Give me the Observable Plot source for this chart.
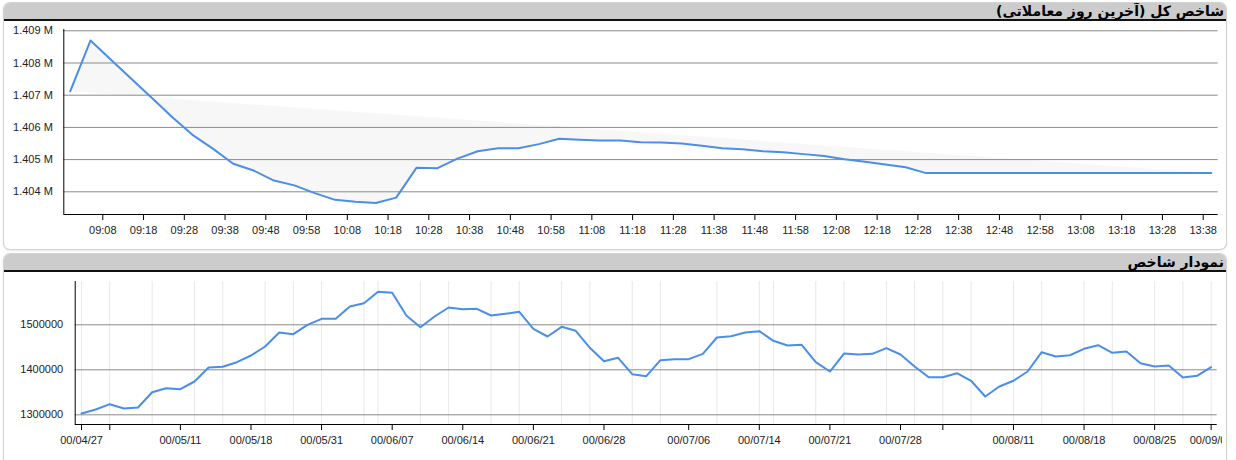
<!DOCTYPE html>
<html>
<head>
<meta charset="utf-8">
<script src="https://cdn.jsdelivr.net/npm/d3@7"></script>
<script src="https://cdn.jsdelivr.net/npm/@observablehq/plot@0.6"></script>
<style>
  html, body { margin: 0; padding: 0; }
  body { width: 1236px; height: 460px; overflow: hidden; position: relative; background: #fff; font-family: "Liberation Sans", Arial, sans-serif; }
  .panel { position: absolute; left: 4px; width: 1222px; background: #fff; border-radius: 6px;
           box-shadow: 0 0 0 1px #d2d2d2, 0 1px 3px rgba(0,0,0,0.18); overflow: hidden; }
  .head { position: absolute; left: 0; right: 0; top: 0; height: 16px; background: #cccccc; border-bottom: 2px solid #111; }
  .title { position: absolute; right: 2px; top: 0px; height: 16px; line-height: 16px; direction: rtl;
           font: bold 14px "DejaVu Sans", sans-serif; color: #000; white-space: nowrap; }
  .chart { position: absolute; left: 0; }
  .chart svg { overflow: hidden; }
</style>
</head>
<body>
<div class="panel" style="top:3px;height:246px;"><div class="head"><div class="title">شاخص کل (آخرین روز معاملاتی)</div></div></div>
<div class="panel" style="top:254px;height:230px;"><div class="head"><div class="title">نمودار شاخص</div></div></div>
<div class="chart" id="c1" style="top:21px;"></div>
<div class="chart" id="c2" style="top:272px;"></div>
<script>
// ---------- Intraday index (last trading day) ----------
const intradayTimes = ["09:00","09:05","09:10","09:15","09:20","09:25","09:30","09:35","09:40","09:45",
  "09:50","09:55","10:00","10:05","10:10","10:15","10:20","10:25","10:30","10:35",
  "10:40","10:45","10:50","10:55","11:00","11:05","11:10","11:15","11:20","11:25",
  "11:30","11:35","11:40","11:45","11:50","11:55","12:00","12:05","12:10","12:15",
  "12:20","12:25","12:30","12:35","12:40","12:45","12:50","12:55","13:00","13:05",
  "13:10","13:15","13:20","13:25","13:30","13:35","13:40"];
const intradayValues = [1407120,1408700,1408100,1407510,1406920,1406320,1405770,1405340,1404870,1404660,
  1404350,1404200,1403960,1403750,1403690,1403650,1403820,1404750,1404730,1405030,
  1405260,1405350,1405350,1405480,1405650,1405620,1405590,1405590,1405540,1405530,
  1405500,1405430,1405350,1405320,1405260,1405230,1405170,1405110,1405010,1404930,
  1404850,1404760,1404580,1404580,1404580,1404580,1404580,1404580,1404580,1404580,
  1404580,1404580,1404580,1404580,1404580,1404580,1404580];
const intradayTickLabels = ["09:08","09:18","09:28","09:38","09:48","09:58","10:08","10:18","10:28","10:38",
  "10:48","10:58","11:08","11:18","11:28","11:38","11:48","11:58","12:08","12:18",
  "12:28","12:38","12:48","12:58","13:08","13:18","13:28","13:38"];
const intradayYTicks = [1404000,1405000,1406000,1407000,1408000,1409000];
const intradayXDomain = ["08:58:26","13:41:41"];
const intradayYDomain = [1403295,1409040];

// ---------- Daily index history ----------
const dailyValues = [1302900,1311800,1323600,1314000,1316200,1350200,1359100,1356900,1374000,1405100,
  1406700,1416900,1431800,1451800,1482900,1479100,1500000,1513300,1513300,1540700,
  1548000,1573300,1571100,1520700,1494700,1518400,1538400,1534800,1535500,1520700,
  1524400,1528800,1491000,1474000,1495500,1486600,1448900,1419100,1426700,1390200,
  1385900,1421400,1423600,1423600,1435500,1471800,1474700,1482900,1485900,1464400,
  1454000,1455600,1416900,1396200,1436200,1434000,1435500,1448100,1434000,1407300,
  1383600,1383600,1392500,1375600,1340700,1362900,1375600,1396200,1439100,1429600,
  1432400,1446700,1454700,1437800,1440700,1414700,1407300,1409600,1382900,1386700,1405800];
const dailyTickIndex  = [0,2,7,12,17,22,27,32,37,43,48,53,58,61,66,71,76,80];
const dailyTickLabels = ["00/04/27","","00/05/11","00/05/18","00/05/31","00/06/07","00/06/14","00/06/21",
  "00/06/28","00/07/06","00/07/14","00/07/21","00/07/28","","00/08/11","00/08/18","00/08/25","00/09/03"];
const dailyGridIndex = [0,2,5,8,10,13,15,17,20,21,24,26,29,31,34,36,39,41,45,48,49,52,54,57,59,61,63,66,68,71,73,76,78,80];
const dailyYTicks = [1300000,1400000,1500000];
const dailyXDomain = [-0.45, 80.43];
const dailyYDomain = [1278444,1596222];

const LINE = "#4a8ee8", GRID = "#8a8a8a", VGRID = "#e8e8e8", FILL = "#f7f7f7";
const baseStyle = {background:"transparent", fontFamily:"'Liberation Sans', Arial, sans-serif", fontSize:"11px", color:"#222", overflow:"hidden"};

const toMin = s => { const p = s.split(":").map(Number); return p[0]*60 + p[1] + (p[2]||0)/60; };
const intraday = intradayTimes.map((t,i) => ({m: toMin(t), v: intradayValues[i]}));
const topTicks = intradayTickLabels.map(toMin);
const topLabel = new Map(topTicks.map((m,i) => [m, intradayTickLabels[i]]));
const topXDom = intradayXDomain.map(toMin);

const chart1 = Plot.plot({
  width: 1218, height: 228,
  marginLeft: 63.3, marginRight: 0.3, marginTop: 8, marginBottom: 35,
  style: baseStyle,
  x: {domain: topXDom, label: null},
  y: {domain: intradayYDomain, label: null},
  marks: [
    Plot.line(intraday, {x: "m", y: "v", fill: FILL, stroke: "none"}),
    Plot.ruleY(intradayYTicks, {stroke: GRID, strokeWidth: 1}),
    Plot.line(intraday, {x: "m", y: "v", stroke: LINE, strokeWidth: 2}),
    Plot.ruleX([topXDom[0]], {stroke: "#000", strokeWidth: 1}),
    Plot.ruleY([intradayYDomain[0]], {stroke: "#000", strokeWidth: 1}),
    Plot.axisX(topTicks, {tickFormat: d => topLabel.get(d), tickSize: 6, tickPadding: 6, stroke: "#000"}),
    Plot.axisY(intradayYTicks, {tickFormat: d => (d/1e6).toFixed(3) + " M", tickSize: 0, tickPadding: 11})
  ]
});
document.getElementById("c1").appendChild(chart1);

const daily = dailyValues.map((v,i) => ({i, v}));
const botLabel = new Map(dailyTickIndex.map((d,k) => [d, dailyTickLabels[k]]));

const chart2 = Plot.plot({
  width: 1222, height: 188,
  marginLeft: 74.7, marginRight: 5.3, marginTop: 9, marginBottom: 36,
  style: baseStyle,
  x: {domain: dailyXDomain, label: null},
  y: {domain: dailyYDomain, label: null},
  marks: [
    Plot.ruleX(dailyGridIndex, {stroke: VGRID, strokeWidth: 1}),
    Plot.ruleY(dailyYTicks, {stroke: GRID, strokeWidth: 1}),
    Plot.line(daily, {x: "i", y: "v", stroke: LINE, strokeWidth: 2}),
    Plot.ruleX([dailyXDomain[0]], {stroke: "#000", strokeWidth: 1}),
    Plot.ruleY([dailyYDomain[0]], {stroke: "#000", strokeWidth: 1}),
    Plot.axisX(dailyTickIndex, {tickFormat: d => botLabel.get(d), tickSize: 6, tickPadding: 6, stroke: "#000"}),
    Plot.axisY(dailyYTicks, {tickFormat: d => String(d), tickSize: 0, tickPadding: 12})
  ]
});
document.getElementById("c2").appendChild(chart2);
</script>
</body>
</html>
